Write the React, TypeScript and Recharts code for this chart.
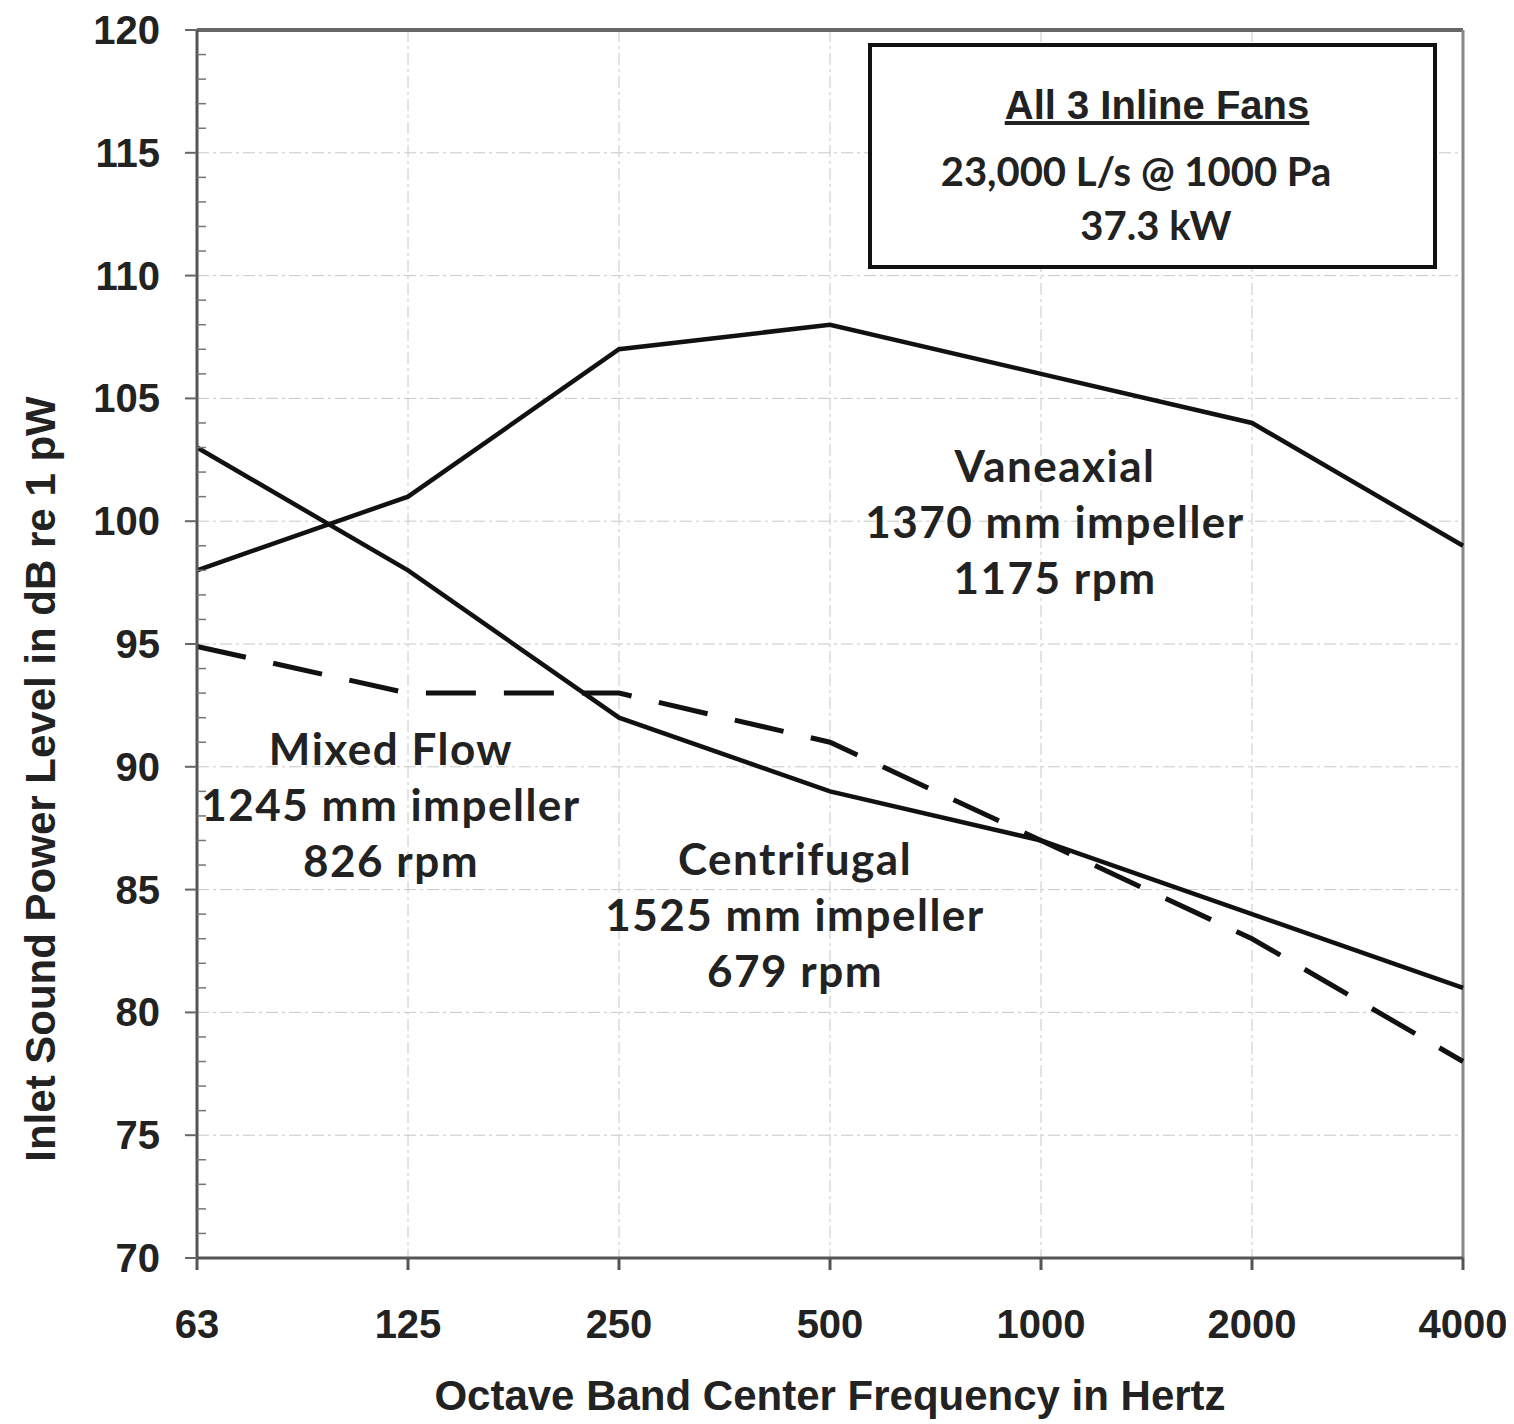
import { LineChart, Line, XAxis, YAxis, CartesianGrid, ReferenceLine, Label } from 'recharts';

const frequencies = ['63', '125', '250', '500', '1000', '2000', '4000'];
const vaneaxial = [98, 101, 107, 108, 106, 104, 99];
const centrifugal = [103, 98, 92, 89, 87, 84, 81];
const mixedFlow = [94.9, 93, 93, 91, 87, 83, 78];
const majorTicks = [70, 75, 80, 85, 90, 95, 100, 105, 110, 115, 120];

const allTicks: number[] = [];
for (let v = 70; v <= 120; v++) allTicks.push(v);

const data = frequencies.map((f, i) => ({
  name: f,
  vaneaxial: vaneaxial[i],
  centrifugal: centrifugal[i],
  mixedFlow: mixedFlow[i],
}));

const axisFont = "'Liberation Sans', Arial, sans-serif";
const noteFont = "Lato, 'Open Sans', sans-serif";

function YTick(props: any) {
  const { x, y, payload } = props;
  const ax = x + 37;
  const v = payload.value;
  if (v % 5 === 0) {
    return (
      <g>
        <line x1={ax - 12} x2={ax} y1={y} y2={y} stroke="#666" strokeWidth={2} />
        <text x={x} y={y} dy={14} textAnchor="end" fontFamily={axisFont} fontWeight="bold" fontSize={40} fill="#222">
          {v}
        </text>
      </g>
    );
  }
  return <line x1={ax} x2={ax + 9} y1={y} y2={y} stroke="#777" strokeWidth={1.5} />;
}

// y title sits a bit below the plot's middle in the original
function YTitle() {
  return (
    <text
      x={32}
      y={771}
      transform="rotate(-90 32 771)"
      textAnchor="middle"
      dominantBaseline="central"
      fontFamily={axisFont}
      fontWeight="bold"
      fontSize={42}
      fill="#222"
    >
      Inlet Sound Power Level in dB re 1 pW
    </text>
  );
}

const noteStyle: React.CSSProperties = {
  position: 'absolute',
  fontFamily: noteFont,
  fontWeight: 'bold',
  fontSize: 44,
  letterSpacing: 1.5,
  lineHeight: '56px',
  color: '#222',
  textAlign: 'center',
  whiteSpace: 'nowrap',
  transform: 'translateX(-50%)',
};

export default function App() {
  return (
    <div style={{ position: 'relative', width: 1498, height: 1416 }}>
      <LineChart width={1498} height={1416} data={data} margin={{ top: 22, right: 43, bottom: 16, left: 9 }}>
        <CartesianGrid stroke="#c8c8c8" strokeDasharray="12 4 3 4" horizontalValues={majorTicks} />
        <XAxis
          dataKey="name"
          height={150}
          tickSize={12}
          tickMargin={40}
          stroke="#555"
          strokeWidth={3}
          tick={{ fontFamily: axisFont, fontWeight: 'bold', fontSize: 40, fill: '#222' }}
        >
          <Label
            value="Octave Band Center Frequency in Hertz"
            position="insideBottom"
            offset={-2}
            style={{ fontFamily: axisFont, fontWeight: 'bold', fontSize: 42, fill: '#222' }}
          />
        </XAxis>
        <YAxis
          type="number"
          domain={[70, 120]}
          ticks={allTicks}
          interval={0}
          width={180}
          tickSize={12}
          tickMargin={25}
          tickLine={false}
          stroke="#555"
          strokeWidth={3}
          tick={<YTick />}
        >
          <Label content={<YTitle />} />
        </YAxis>
        <ReferenceLine y={120} stroke="#666" strokeWidth={4} />
        <ReferenceLine x="4000" stroke="#888" strokeWidth={3} />
        <Line type="linear" dataKey="vaneaxial" stroke="#111" strokeWidth={4.5} dot={false} isAnimationActive={false} />
        <Line type="linear" dataKey="centrifugal" stroke="#111" strokeWidth={4.5} dot={false} isAnimationActive={false} />
        <Line
          type="linear"
          dataKey="mixedFlow"
          stroke="#111"
          strokeWidth={5}
          strokeDasharray="50 28"
          dot={false}
          isAnimationActive={false}
        />
      </LineChart>

      <div
        style={{
          position: 'absolute',
          left: 860,
          top: 35,
          width: 561,
          height: 218,
          border: '4px solid #111',
          background: '#fff',
        }}
      >
        <div
          style={{
            position: 'absolute',
            left: 285,
            top: 36,
            transform: 'translateX(-50%)',
            fontFamily: axisFont,
            fontWeight: 'bold',
            fontSize: 40,
            textDecoration: 'underline',
            whiteSpace: 'nowrap',
            color: '#222',
          }}
        >
          All 3 Inline Fans
        </div>
        <div style={{ ...noteStyle, fontSize: 40, letterSpacing: 0, left: 264, top: 96 }}>23,000 L/s @ 1000 Pa</div>
        <div style={{ ...noteStyle, fontSize: 40, letterSpacing: 0, left: 284, top: 150 }}>37.3 kW</div>
      </div>

      <div style={{ ...noteStyle, left: 1047, top: 429 }}>
        Vaneaxial
        <br />
        1370 mm impeller
        <br />
        1175 rpm
      </div>
      <div style={{ ...noteStyle, left: 383, top: 712 }}>
        Mixed Flow
        <br />
        1245 mm impeller
        <br />
        826 rpm
      </div>
      <div style={{ ...noteStyle, left: 787, top: 822 }}>
        Centrifugal
        <br />
        1525 mm impeller
        <br />
        679 rpm
      </div>
    </div>
  );
}
